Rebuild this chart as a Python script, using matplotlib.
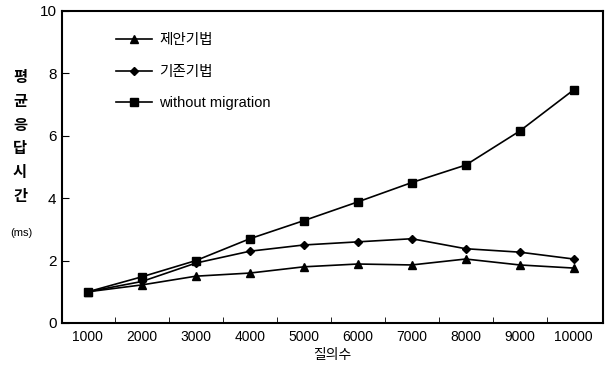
import matplotlib
matplotlib.use("Agg")
import matplotlib.pyplot as plt
import numpy as np

plt.rcParams['font.family'] = ['Liberation Sans', 'Noto Sans CJK KR', 'DejaVu Sans']

queries = ["1000", "2000", "3000", "4000", "5000", "6000", "7000", "8000", "9000", "10000"]
proposed = [1.0, 1.22, 1.5, 1.6, 1.8, 1.89, 1.86, 2.05, 1.86, 1.76]
existing = [1.0, 1.33, 1.92, 2.3, 2.5, 2.6, 2.7, 2.38, 2.27, 2.05]
no_migration = [1.0, 1.48, 2.0, 2.7, 3.28, 3.88, 4.5, 5.06, 6.15, 7.47]
series_labels = ["제안기법", "기존기법", "without migration"]
ylabel_chars = ["평", "균", "응", "답", "시", "간"]

W, H = 609, 368
fig = plt.figure(figsize=(W / 100, H / 100), dpi=100)
ax = fig.add_axes([0.1018, 0.1223, 0.888, 0.848])

x = np.arange(len(queries))
ax.plot(x, proposed, color='black', lw=1.2, marker='^', ms=6, label=series_labels[0])
ax.plot(x, existing, color='black', lw=1.2, marker='D', ms=4, label=series_labels[1])
ax.plot(x, no_migration, color='black', lw=1.2, marker='s', ms=6, label=series_labels[2])

ax.set_xlim(-0.48, 9.54)
ax.set_ylim(0, 10)
ax.set_yticks([0, 2, 4, 6, 8, 10])
ax.set_xticks(x)
ax.set_xticklabels(queries, fontsize=10)
ax.tick_params(axis='x', length=0, pad=5)
ax.set_xticks(x[:-1] + 0.5, minor=True)
ax.tick_params(axis='x', which='minor', direction='in', length=4)
ax.tick_params(axis='y', direction='in', length=5, labelsize=11, pad=4)
for s in ax.spines.values():
    s.set_linewidth(1.5)

ax.set_xlabel("질의수", fontsize=10, labelpad=3)

# vertical, one-character-per-line y label followed by the unit
for i, ch in enumerate(ylabel_chars):
    fig.text(20 / W, 1 - (78 + i * 23.8) / H, ch, ha='center', va='center',
             fontsize=11, fontweight='bold')
fig.text(21 / W, 1 - 233 / H, "(ms)", ha='center', va='center', fontsize=8)

ax.legend(loc='upper left', bbox_to_anchor=(0.075, 0.97), frameon=False,
          handlelength=2.5, handletextpad=0.5, labelspacing=1.2, fontsize=10.5)

fig.savefig("out.png", dpi=100)
